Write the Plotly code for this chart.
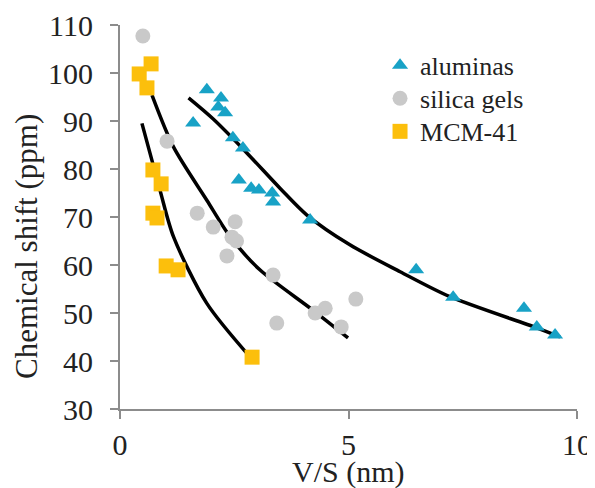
import plotly.graph_objects as go

# --- data ---
alum_x = [1.90, 2.21, 2.15, 2.30, 1.60, 2.47, 2.69, 2.60, 2.87, 3.04, 3.33, 3.35, 4.16, 6.48, 7.29, 8.84, 9.12, 9.52]
alum_y = [96.5, 94.8, 92.9, 91.7, 89.6, 86.5, 84.4, 77.7, 76.0, 75.6, 75.0, 73.1, 69.4, 59.0, 53.3, 51.0, 47.1, 45.4]

silica_x = [0.50, 1.03, 1.69, 2.04, 2.52, 2.45, 2.55, 2.34, 3.35, 3.43, 5.16, 4.49, 4.27, 4.84]
silica_y = [107.7, 85.8, 70.8, 67.9, 69.0, 65.8, 65.0, 61.9, 57.9, 47.9, 52.9, 51.0, 50.0, 47.1]

mcm_x = [0.42, 0.68, 0.59, 0.72, 0.90, 0.72, 0.81, 1.01, 1.27, 2.89]
mcm_y = [99.8, 101.9, 96.9, 79.8, 76.9, 70.8, 69.8, 59.8, 59.0, 40.8]

# trend curves
alum_fit_x = [1.50, 2.04, 2.77, 3.50, 4.09, 5.03, 6.13, 7.22, 9.12, 9.63]
alum_fit_y = [94.8, 90.4, 83.4, 76.0, 70.4, 64.2, 58.6, 53.4, 46.9, 45.0]

silica_fit_x = [0.70, 1.17, 1.90, 2.41, 3.06, 4.22, 4.99]
silica_fit_y = [95.4, 84.6, 73.5, 65.9, 59.0, 50.6, 44.8]

mcm_fit_x = [0.48, 0.875, 1.17, 1.90, 2.84]
mcm_fit_y = [89.5, 75.6, 65.9, 52.0, 40.9]

x_ticks = [0, 5, 10]
y_ticks = [30, 40, 50, 60, 70, 80, 90, 100, 110]

FONT = "Liberation Serif, Times New Roman, serif"
AXC = "#8c8c8c"
TXT = "#222222"

fig = go.Figure()

for fx, fy in [(alum_fit_x, alum_fit_y), (silica_fit_x, silica_fit_y), (mcm_fit_x, mcm_fit_y)]:
    fig.add_trace(go.Scatter(x=fx, y=fy, mode="lines",
                             line=dict(color="black", width=3.5, shape="spline", smoothing=0.8),
                             showlegend=False, hoverinfo="skip"))

fig.add_trace(go.Scatter(x=alum_x, y=alum_y, mode="markers", name="aluminas", legend="legend",
                         marker=dict(symbol="triangle-up", size=14, color="#18a2c6")))
fig.add_trace(go.Scatter(x=silica_x, y=silica_y, mode="markers", name="silica gels", legend="legend2",
                         marker=dict(symbol="circle", size=15, color="#c9c9c9")))
fig.add_trace(go.Scatter(x=mcm_x, y=mcm_y, mode="markers", name="MCM-41", legend="legend3",
                         marker=dict(symbol="square", size=15, color="#fcbf0c")))

leg_common = dict(x=0.569, xanchor="left", yanchor="top",
                  font=dict(size=26, family=FONT, color=TXT),
                  bgcolor="rgba(0,0,0,0)", itemwidth=30)

# the page adds an 8px body margin, so the figure is 8px smaller than the window
fig.update_layout(
    width=587, height=480,
    margin=dict(l=112, r=18, t=17, b=79, autoexpand=False),
    paper_bgcolor="white", plot_bgcolor="white",
    font=dict(family=FONT, color=TXT),
    xaxis=dict(range=[0, 10], tickvals=x_ticks, showgrid=False, zeroline=False, automargin=False,
               showline=True, linecolor=AXC, linewidth=2,
               ticks="outside", ticklen=8, tickcolor=AXC, tickwidth=2,
               tickfont=dict(size=30, family=FONT, color=TXT), ticklabelstandoff=0),
    yaxis=dict(range=[30, 110], tickvals=y_ticks, showgrid=False, zeroline=False, automargin=False,
               showline=True, linecolor=AXC, linewidth=2,
               ticks="outside", ticklen=8, tickcolor=AXC, tickwidth=2,
               tickfont=dict(size=30, family=FONT, color=TXT), ticklabelstandoff=11),
    legend=dict(y=0.956, **leg_common),
    legend2=dict(y=0.870, **leg_common),
    legend3=dict(y=0.784, **leg_common),
    annotations=[
        dict(text="Chemical shift (ppm)", xref="paper", yref="paper", x=-0.2035, y=0.422,
             xanchor="center", yanchor="middle",
             textangle=-90, showarrow=False, font=dict(size=31, family=FONT, color=TXT)),
        dict(text="V/S (nm)", xref="paper", yref="paper", x=0.501, y=-0.164,
             xanchor="center", yanchor="middle",
             showarrow=False, font=dict(size=30, family=FONT, color=TXT)),
    ],
)

fig.write_html("out.html")
